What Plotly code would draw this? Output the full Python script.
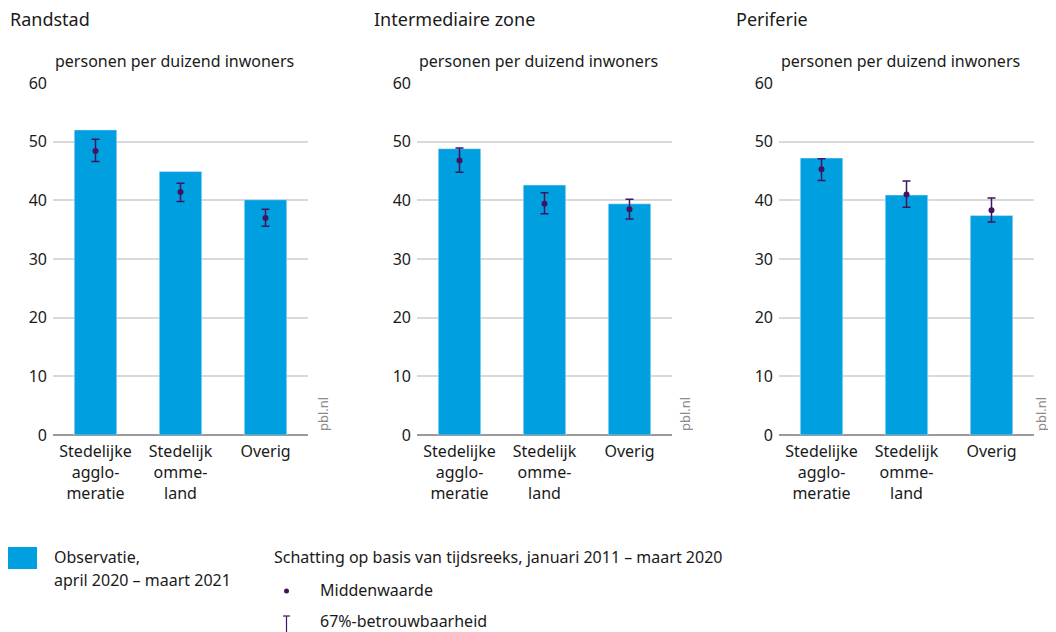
import plotly.graph_objects as go

categories = ["Stedelijke<br>agglo-<br>meratie", "Stedelijk<br>omme-<br>land", "Overig"]
regions = ["Randstad", "Intermediaire zone", "Periferie"]

obs_randstad = [52.0, 44.9, 40.1]
mid_randstad = [48.4, 41.4, 37.0]
hi_randstad = [50.4, 42.9, 38.5]
lo_randstad = [46.6, 39.8, 35.6]

obs_inter = [48.8, 42.6, 39.4]
mid_inter = [46.8, 39.4, 38.5]
hi_inter = [48.9, 41.3, 40.2]
lo_inter = [44.8, 37.7, 36.8]

obs_peri = [47.2, 40.9, 37.4]
mid_peri = [45.3, 41.0, 38.3]
hi_peri = [47.1, 43.3, 40.4]
lo_peri = [43.4, 38.8, 36.3]

y_ticks = [0, 10, 20, 30, 40, 50, 60]
y_title = "personen per duizend inwoners"

BLUE = "#009fe0"
PURPLE = "#42145f"
TEXT = "#1a1a1a"
FONT = "Noto Sans"
W, H = 1056, 632
# the page body adds an 8px margin; positions below are screen pixels
OX, OY = 8, 8


def px_x(v):
    return (v - OX) / W


def px_y(v):
    return (H - (v - OY)) / H


panels = [
    (obs_randstad, mid_randstad, hi_randstad, lo_randstad),
    (obs_inter, mid_inter, hi_inter, lo_inter),
    (obs_peri, mid_peri, hi_peri, lo_peri),
]
x_px = [(53, 308), (417, 672), (779, 1034)]
pbl_px = [323, 685, 1041]
y_dom = [px_y(435), px_y(83)]

fig = go.Figure()
annotations = []
for i, (obs, mid, hi, lo) in enumerate(panels):
    sfx = "" if i == 0 else str(i + 1)
    xa, ya = "x" + sfx, "y" + sfx
    fig.add_trace(go.Bar(x=categories, y=obs, marker_color=BLUE, width=0.5,
                         xaxis=xa, yaxis=ya, showlegend=False, hoverinfo="y"))
    fig.add_trace(go.Scatter(
        x=categories, y=mid, mode="markers", xaxis=xa, yaxis=ya, showlegend=False,
        marker=dict(color=PURPLE, size=6),
        error_y=dict(type="data", symmetric=False,
                     array=[h - m for h, m in zip(hi, mid)],
                     arrayminus=[m - l for m, l in zip(mid, lo)],
                     color=PURPLE, thickness=1.5, width=4)))
    x0, x1 = x_px[i]
    dom = [px_x(x0), px_x(x1)]
    fig.update_layout(**{
        "xaxis" + sfx: dict(domain=dom, anchor=ya, showgrid=False, showline=False,
                            ticks="", automargin=False, ticklabelstandoff=5,
                            tickfont=dict(size=16, color=TEXT, family=FONT),
                            fixedrange=True),
        "yaxis" + sfx: dict(domain=y_dom, anchor=xa, range=[0, 60], tickvals=y_ticks,
                            showgrid=True, gridcolor="#d9d9d9", gridwidth=1.5,
                            zeroline=True, zerolinecolor="#9a9a9a", zerolinewidth=1.5,
                            showline=False, ticks="", ticklabelstandoff=5, automargin=False,
                            tickfont=dict(size=16, color=TEXT, family=FONT),
                            fixedrange=True),
    })
    annotations.append(dict(text=regions[i], x=px_x(x0 - 45), y=px_y(19),
                            xref="paper", yref="paper", xanchor="left", yanchor="middle",
                            showarrow=False, font=dict(size=18, color=TEXT, family=FONT)))
    annotations.append(dict(text=y_title, x=px_x(x0), y=px_y(61),
                            xref="paper", yref="paper", xanchor="left", yanchor="middle",
                            showarrow=False, font=dict(size=16, color=TEXT, family=FONT)))
    annotations.append(dict(text="pbl.nl", x=px_x(pbl_px[i]), y=px_y(433),
                            xref="paper", yref="paper", xanchor="center", yanchor="bottom",
                            textangle=-90, showarrow=False,
                            font=dict(size=13, color="#8c8c8c", family=FONT)))

leg_font = dict(size=16, color=TEXT, family=FONT)
annotations += [
    dict(text="Observatie,", x=px_x(52), y=px_y(557), xref="paper", yref="paper",
         xanchor="left", yanchor="middle", showarrow=False, font=leg_font),
    dict(text="april 2020 – maart 2021", x=px_x(52), y=px_y(580), xref="paper", yref="paper",
         xanchor="left", yanchor="middle", showarrow=False, font=leg_font),
    dict(text="Schatting op basis van tijdsreeks, januari 2011 – maart 2020", x=px_x(272),
         y=px_y(557), xref="paper", yref="paper", xanchor="left", yanchor="middle",
         showarrow=False, font=leg_font),
    dict(text="Middenwaarde", x=px_x(318), y=px_y(590), xref="paper", yref="paper",
         xanchor="left", yanchor="middle", showarrow=False, font=leg_font),
    dict(text="67%-betrouwbaarheid", x=px_x(318), y=px_y(621), xref="paper", yref="paper",
         xanchor="left", yanchor="middle", showarrow=False, font=leg_font),
]

shapes = [
    dict(type="rect", xref="paper", yref="paper", x0=px_x(8), x1=px_x(37),
         y0=px_y(569), y1=px_y(547), fillcolor=BLUE, line=dict(width=0)),
    dict(type="circle", xref="paper", yref="paper", x0=px_x(284), x1=px_x(289),
         y0=px_y(593.5), y1=px_y(588.5), fillcolor=PURPLE, line=dict(width=0)),
    dict(type="line", xref="paper", yref="paper", x0=px_x(286.5), x1=px_x(286.5),
         y0=px_y(616), y1=px_y(634), line=dict(color=PURPLE, width=1.2)),
    dict(type="line", xref="paper", yref="paper", x0=px_x(283), x1=px_x(290),
         y0=px_y(616), y1=px_y(616), line=dict(color=PURPLE, width=1.2)),
]

fig.update_layout(
    width=W, height=H,
    margin=dict(l=0, r=0, t=0, b=0, pad=0),
    paper_bgcolor="white", plot_bgcolor="white",
    font=dict(family=FONT, color=TEXT),
    bargap=0.5,
    annotations=annotations,
    shapes=shapes,
    showlegend=False,
)

fig.write_html("out.html")
